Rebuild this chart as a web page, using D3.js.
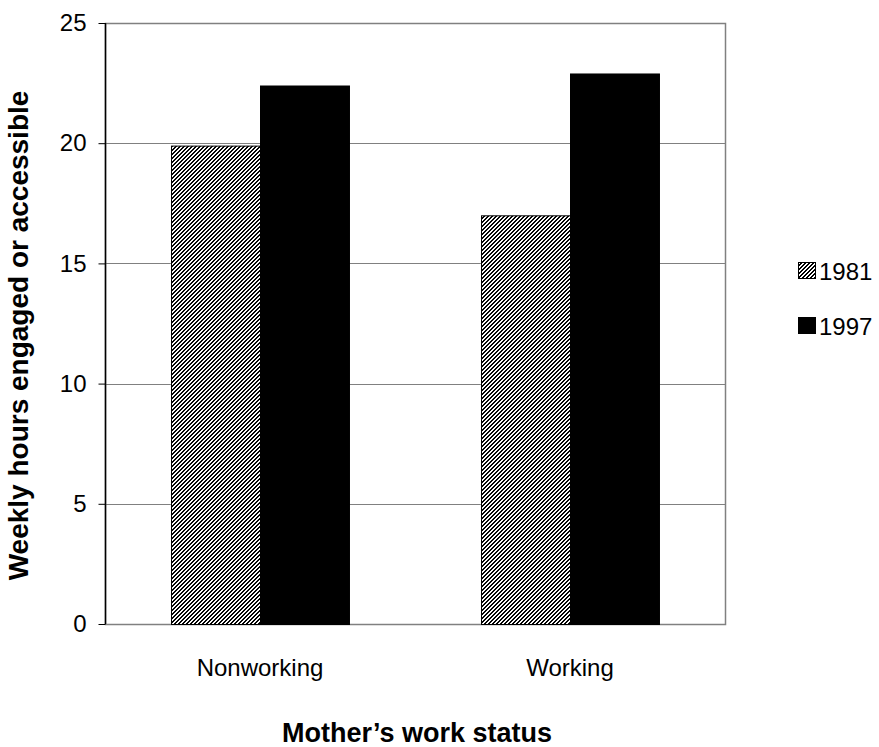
<!DOCTYPE html>
<html>
<head>
<meta charset="utf-8">
<script src="https://cdn.jsdelivr.net/npm/d3@7"></script>
<style>
  html, body { margin: 0; padding: 0; background: #fff; }
  svg { display: block; font-family: "Liberation Sans", Arial, sans-serif; }
</style>
</head>
<body>
<svg id="chart" width="879" height="747"></svg>
<script>
// Father involvement by mother's work status
const categories = ["Nonworking", "Working"];
const seriesNames = ["1981", "1997"];
const values1981 = [19.9, 17.0];
const values1997 = [22.4, 22.9];
const yTicks = [0, 5, 10, 15, 20, 25];
const yTitle = "Weekly hours engaged or accessible";
const xTitle = "Mother\u2019s work status";

const svg = d3.select("#chart");
const margin = { left: 105, right: 154, top: 23, bottom: 123 };
const W = 879, H = 747;
const innerW = W - margin.left - margin.right;
const innerH = H - margin.top - margin.bottom;

// Diagonal hatch fill
const defs = svg.append("defs");
const pat = defs.append("pattern")
  .attr("id", "hatch")
  .attr("patternUnits", "userSpaceOnUse")
  .attr("width", 4).attr("height", 4);
pat.append("rect").attr("width", 4).attr("height", 4).attr("fill", "#fff");
for (let r = 0; r < 4; r++) {
  for (let k = 0; k < 2; k++) {
    pat.append("rect")
      .attr("x", (3 - r + k + 4) % 4).attr("y", r)
      .attr("width", 1).attr("height", 1)
      .attr("fill", "#000")
      .attr("shape-rendering", "crispEdges");
  }
}
const fills = ["url(#hatch)", "#000"];

const g = svg.append("g").attr("transform", `translate(${margin.left},${margin.top})`);

const x0 = d3.scaleBand().domain(categories).range([0, innerW]).paddingInner(0.426).paddingOuter(0.213);
const x1 = d3.scaleBand().domain(seriesNames).range([0, x0.bandwidth()]);
const y = d3.scaleLinear().domain([0, 25]).range([innerH, 0]);

// Gridlines
g.append("g").selectAll("line").data(yTicks.filter(t => t > 0)).join("line")
  .attr("x1", 0).attr("x2", innerW)
  .attr("y1", d => Math.round(y(d)) + 0.5).attr("y2", d => Math.round(y(d)) + 0.5)
  .attr("stroke", "#808080").attr("stroke-width", 1);

// Plot frame
g.append("rect")
  .attr("x", 0.5).attr("y", 0.5)
  .attr("width", innerW).attr("height", innerH)
  .attr("fill", "none").attr("stroke", "#808080").attr("stroke-width", 1.5);

// Bars
const rows = categories.map((c, i) => ({ cat: c, vals: [values1981[i], values1997[i]] }));
const groups = g.selectAll(".grp").data(rows).join("g")
  .attr("transform", d => `translate(${x0(d.cat)},0)`);
groups.selectAll("rect").data(d => d.vals.map((v, j) => ({ key: seriesNames[j], v, j }))).join("rect")
  .attr("x", d => x1(d.key) + 0.5)
  .attr("y", d => y(d.v) + 0.5)
  .attr("width", x1.bandwidth())
  .attr("height", d => innerH - y(d.v))
  .attr("fill", d => fills[d.j])
  .attr("stroke", "#000").attr("stroke-width", 1);

// Y axis
const yAxis = d3.axisLeft(y).tickValues(yTicks).tickSize(7).tickPadding(12);
const ya = g.append("g").attr("transform", "translate(0.5,0)").call(yAxis);
ya.select(".domain").attr("stroke", "#000").attr("stroke-width", 1.5).attr("d", `M0,0V${innerH}`);
ya.selectAll(".tick line").attr("stroke", "#000");
ya.selectAll(".tick text").attr("font-size", 24).attr("fill", "#000").attr("font-family", "Liberation Sans, Arial, sans-serif");

// X axis labels
const xAxis = d3.axisBottom(x0).tickSize(0).tickPadding(35);
const xa = g.append("g").attr("transform", `translate(0,${innerH})`).call(xAxis);
xa.select(".domain").remove();
xa.selectAll(".tick text").attr("font-size", 24).attr("fill", "#000").attr("font-family", "Liberation Sans, Arial, sans-serif");

// Axis titles
svg.append("text")
  .attr("transform", `translate(28,${margin.top + innerH / 2 + 12}) rotate(-90)`)
  .attr("text-anchor", "middle")
  .attr("font-size", 28).attr("font-weight", "bold")
  .text(yTitle);
svg.append("text")
  .attr("x", margin.left + innerW / 2 + 2).attr("y", 742)
  .attr("text-anchor", "middle")
  .attr("font-size", 27).attr("font-weight", "bold")
  .text(xTitle);

// Legend
const legend = svg.append("g");
const ly = [271, 326];
seriesNames.forEach((s, i) => {
  legend.append("rect")
    .attr("x", 798.5).attr("y", ly[i] - 8.5)
    .attr("width", 17).attr("height", 16)
    .attr("fill", fills[i]).attr("stroke", "#000").attr("stroke-width", 1);
  legend.append("text")
    .attr("x", 819).attr("y", ly[i] + 9)
    .attr("font-size", 24)
    .text(s);
});
</script>
</body>
</html>
